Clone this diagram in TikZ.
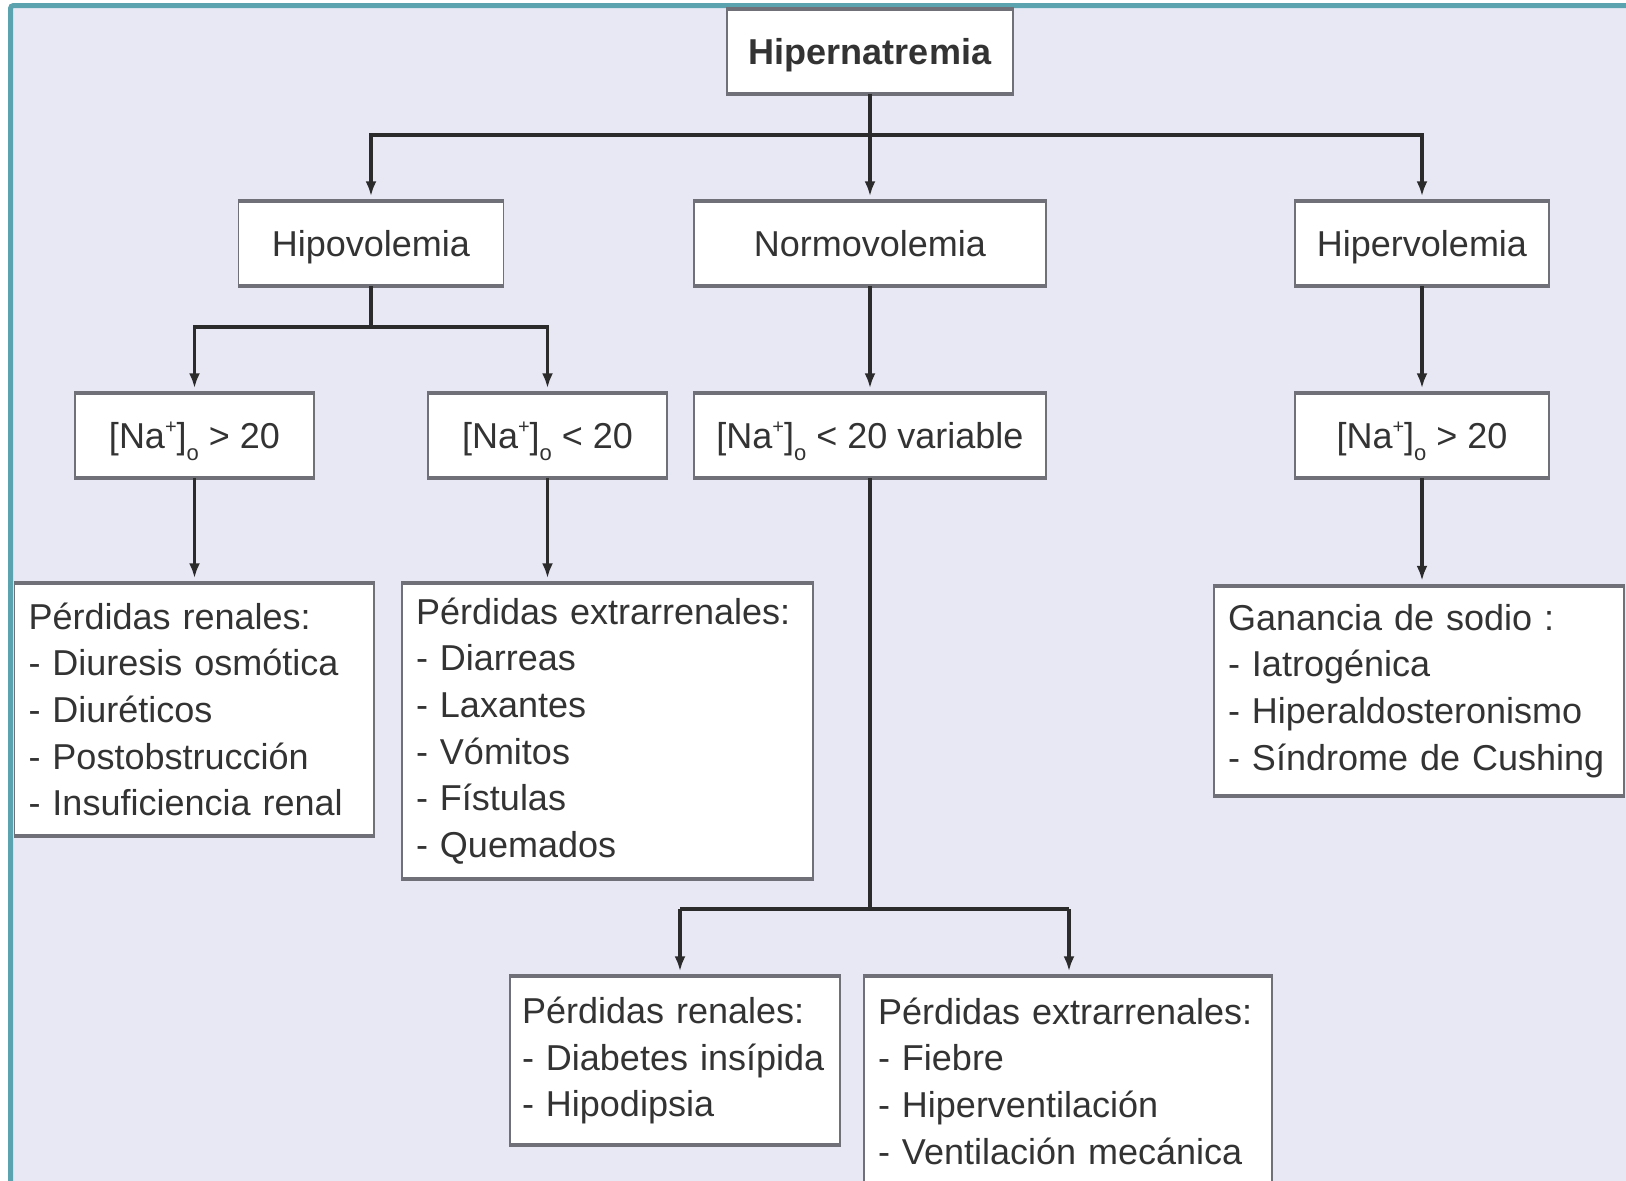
\documentclass[tikz,border=0pt]{standalone}
\usepackage{fontspec}
\setmainfont{Liberation Sans}
\usetikzlibrary{arrows.meta}
\definecolor{bg}{HTML}{E8E8F5}
\definecolor{frameteal}{HTML}{5BA3AE}
\definecolor{boxline}{HTML}{707078}
\definecolor{ink}{HTML}{2B2B2B}
\definecolor{txt}{HTML}{333333}
\newcommand{\NaO}{[Na\raisebox{0.42em}{\fontsize{20}{20}\selectfont +}]\raisebox{-0.32em}{\fontsize{22}{22}\selectfont o}}
\begin{document}
\hyphenpenalty=10000\relax
\exhyphenpenalty=10000\relax
\begin{tikzpicture}[x=1pt,y=-1pt,
  sbox/.style={draw=boxline, line width=1.5pt, fill=white, text=txt, inner sep=0pt,
    align=center, text height=26pt, text depth=0pt,
    font=\fontsize{36}{46.7}\selectfont},
  lbox/.style={draw=boxline, line width=1.5pt, fill=white, text=txt, inner ysep=0pt,
    inner xsep=14pt, align=left,
    font=\fontsize{36}{46.7}\selectfont},
  bar/.style={draw=boxline, line width=4pt},
  conn/.style={draw=ink, line width=3.2pt},
  arr/.style={conn, -{Latex[length=15pt,width=11pt]}, shorten >=5pt}]
\useasboundingbox (0,0) rectangle (1626,1181);
\fill[white] (0,0) rectangle (1626,1181);
\begin{scope}
\clip (0,0) rectangle (1626,1181);
\draw[frameteal, line width=5pt, fill=bg, rounded corners=3pt] (10.5,5.5) rectangle (1660,1220);

% nodes
\node[sbox, font=\fontsize{36}{46.7}\selectfont\bfseries, minimum width=286, minimum height=83] (top) at (870,51.5) {Hipernatremia};
\node[sbox, minimum width=265, minimum height=83] (hipo) at (371,243.5) {Hipovolemia};
\node[sbox, minimum width=352, minimum height=83] (normo) at (870,243.5) {Normovolemia};
\node[sbox, minimum width=254, minimum height=83] (hiper) at (1422,243.5) {Hipervolemia};
\node[sbox, minimum width=239, minimum height=83] (na1) at (194.5,435.5) {\NaO{} > 20};
\node[sbox, minimum width=239, minimum height=83] (na2) at (547.5,435.5) {\NaO{} < 20};
\node[sbox, minimum width=352, minimum height=83] (navar) at (870,435.5) {\NaO{} < 20 variable};
\node[sbox, minimum width=254, minimum height=83] (na4) at (1422,435.5) {\NaO{} > 20};

\node[lbox, text width=331.5, minimum height=251] (renL) at (194.25,709.5)
  {Pérdidas renales:\\- Diuresis osmótica\\- Diuréticos\\- Postobstrucción\\- Insuficiencia renal};
\node[lbox, text width=383, minimum height=294] (extL) at (607.5,731)
  {Pérdidas extrarrenales:\\- Diarreas\\- Laxantes\\- Vómitos\\- Fístulas\\- Quemados};
\node[lbox, text width=382, minimum height=209] (gan) at (1419,691)
  {Ganancia de sodio :\\- Iatrogénica\\- Hiperaldosteronismo\\- Síndrome de Cushing};
\node[lbox, inner xsep=12pt, text width=306, minimum height=167] (renB) at (675,1060.5)
  {Pérdidas renales:\\- Diabetes insípida\\- Hipodipsia};
\node[lbox, text width=380, minimum height=208] (extB) at (1068,1081)
  {Pérdidas extrarrenales:\\- Fiebre\\- Hiperventilación\\- Ventilación mecánica};

% thick top/bottom edges
\foreach \n in {top,hipo,normo,hiper,na1,na2,navar,na4,renL,extL,gan,renB,extB}{
  \draw[bar] (\n.north west) -- (\n.north east);
  \draw[bar] (\n.south west) -- (\n.south east);
}

% connectors
\coordinate (b1) at (870,135);
\draw[arr] (top.south) -- (normo.north);
\draw[arr] (b1) -| (hipo.north);
\draw[arr] (b1) -| (hiper.north);

\coordinate (h1) at (371,327);
\draw[conn] (hipo.south) -- (h1);
\draw[arr] (h1) -| (na1.north);
\draw[arr] (h1) -| (na2.north);

\draw[arr] (normo.south) -- (navar.north);
\draw[arr] (hiper.south) -- (na4.north);

\draw[arr] (na1.south) -- (na1.south |- renL.north);
\draw[arr] (na2.south) -- (na2.south |- extL.north);
\draw[arr] (na4.south) -- (na4.south |- gan.north);

\coordinate (v1) at (870,909);
\coordinate (v2) at (680,909);
\coordinate (v3) at (1069,909);
\draw[conn] (navar.south) -- (v1);
\draw[conn] (v2) -- (v3);
\draw[arr] (v2) -- (v2 |- renB.north);
\draw[arr] (v3) -- (v3 |- extB.north);
\end{scope}
\end{tikzpicture}
\end{document}
